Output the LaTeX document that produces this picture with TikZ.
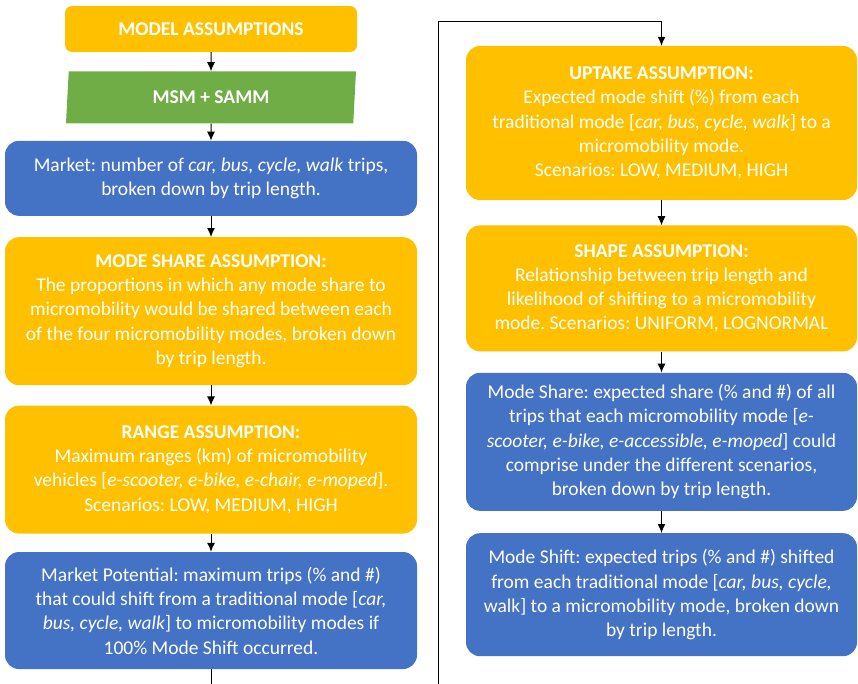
\documentclass[tikz,border=0pt]{standalone}
\usepackage{fontspec}
\setmainfont{Carlito}
\frenchspacing
\usetikzlibrary{positioning,arrows.meta,shapes.geometric}
\definecolor{myorange}{HTML}{FFC000}
\definecolor{mygreen}{HTML}{70AD47}
\definecolor{myblue}{HTML}{4472C4}

\begin{document}
\begin{tikzpicture}[x=1pt,y=-1pt,
box/.style={rectangle,rounded corners=14pt,text=white,align=center,inner sep=0pt,
  font=\fontsize{19.5}{24.3}\selectfont},
obox/.style={box,fill=myorange},
bbox/.style={box,fill=myblue},
edge/.style={-{Latex[length=9pt,width=8pt]},line width=1pt}]

\useasboundingbox (0,0) rectangle (858,684);

% left column
\node[obox,rounded corners=7pt,minimum width=292pt,minimum height=46pt,font=\fontsize{19.5}{24.3}\selectfont\bfseries](ma) at (211,29) {MODEL ASSUMPTIONS};
\node[below=19pt of ma,trapezium,trapezium left angle=78,trapezium right angle=102,trapezium stretches body,fill=mygreen,text=white,
  minimum width=290pt,minimum height=52pt,inner sep=0pt,font=\fontsize{19.5}{24.3}\selectfont\bfseries](msm){MSM + SAMM};
\node[bbox,below=17pt of msm,minimum width=412pt,minimum height=75pt](market){Market: number of \textit{car, bus, cycle, walk} trips,\\broken down by trip length.};
\node[obox,below=21pt of market,minimum width=412pt,minimum height=148pt](share){\textbf{MODE SHARE ASSUMPTION:}\\The proportions in which any mode share to\\micromobility would be shared between each\\of the four micromobility modes, broken down\\by trip length.};
\node[obox,below=20pt of share,minimum width=412pt,minimum height=128pt](range){\textbf{RANGE ASSUMPTION:}\\Maximum ranges (km) of micromobility\\vehicles [\textit{e-scooter, e-bike, e-chair, e-moped}].\\Scenarios: LOW, MEDIUM, HIGH};
\node[bbox,below=18pt of range,minimum width=412pt,minimum height=117pt](potential){Market Potential: maximum trips (\% and \#)\\that could shift from a traditional mode [\textit{car,}\\\textit{bus, cycle, walk}] to micromobility modes if\\100\% Mode Shift occurred.};

% right column
\node[obox,minimum width=391pt,minimum height=154pt](uptake) at (661.5,123){\textbf{UPTAKE ASSUMPTION:}\\Expected mode shift (\%) from each\\traditional mode [\textit{car, bus, cycle, walk}] to a\\micromobility mode.\\Scenarios: LOW, MEDIUM, HIGH};
\node[obox,below=25pt of uptake,minimum width=391pt,minimum height=126pt](shape){\textbf{SHAPE ASSUMPTION:}\\Relationship between trip length and\\likelihood of shifting to a micromobility\\mode. Scenarios: UNIFORM, LOGNORMAL};
\node[bbox,below=21pt of shape,minimum width=391pt,minimum height=138pt](modeshare){Mode Share: expected share (\% and \#) of all\\trips that each micromobility mode [\textit{e-}\\\textit{scooter, e-bike, e-accessible, e-moped}] could\\comprise under the different scenarios,\\broken down by trip length.};
\node[bbox,below=22pt of modeshare,minimum width=391pt,minimum height=123pt](modeshift){Mode Shift: expected trips (\% and \#) shifted\\from each traditional mode [\textit{car, bus, cycle,}\\walk] to a micromobility mode, broken down\\by trip length.};

% turning points of the long connector
\coordinate (lowturn) at (438,710);
\coordinate (topturn) at (438,22);

\draw[edge] (ma) -- (msm);
\draw[edge] (msm) -- (market);
\draw[edge] (market) -- (share);
\draw[edge] (share) -- (range);
\draw[edge] (range) -- (potential);
\draw[edge] (potential.south) |- (lowturn) -- (topturn) -| (uptake.north);
\draw[edge] (uptake) -- (shape);
\draw[edge] (shape) -- (modeshare);
\draw[edge] (modeshare) -- (modeshift);
\end{tikzpicture}
\end{document}
